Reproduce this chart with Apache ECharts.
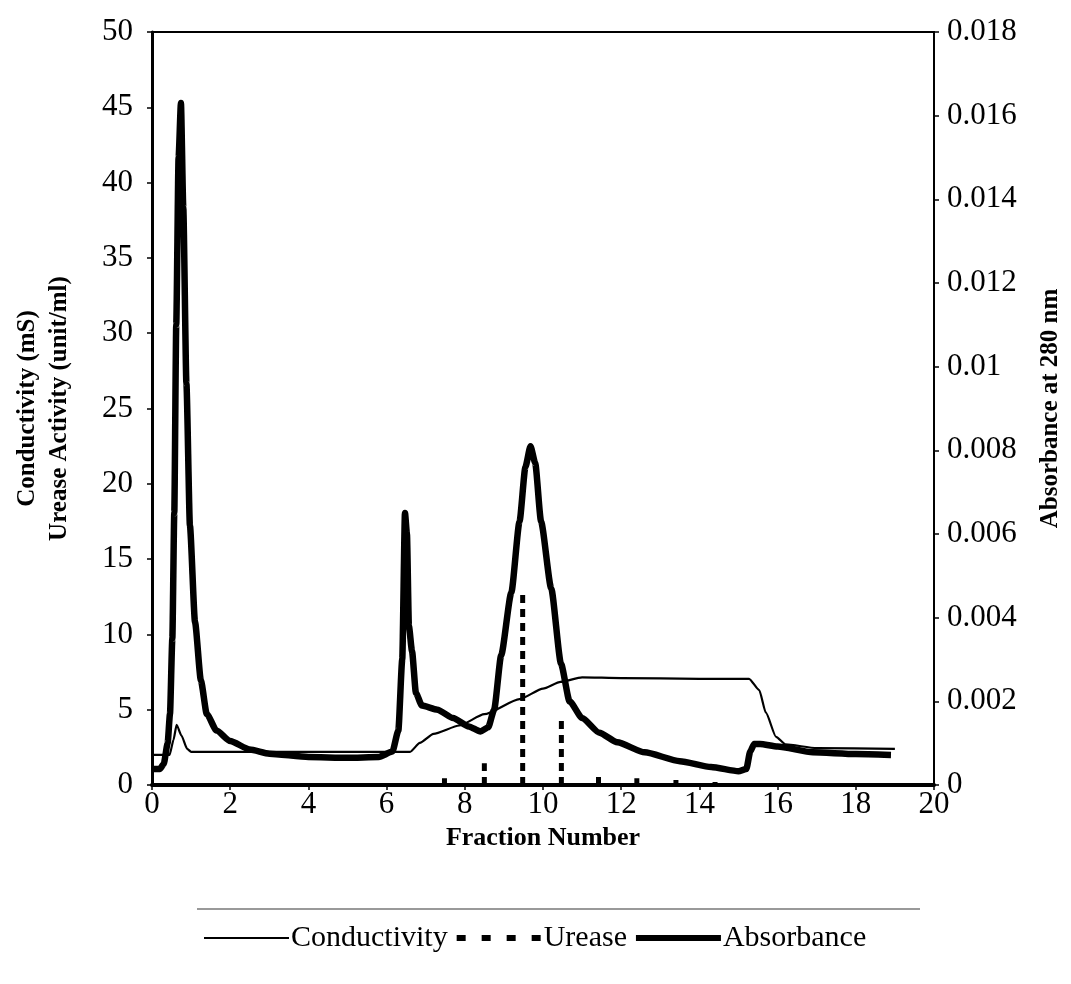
<!DOCTYPE html>
<html>
<head>
<meta charset="utf-8">
<script src="https://cdn.jsdelivr.net/npm/echarts@6/dist/echarts.min.js"></script>
<style>
html,body{margin:0;padding:0;background:#fff;}
#chart{width:1071px;height:984px;}
</style>
</head>
<body>
<div id="chart"></div>
<script>
// ---- data ----
var xTicks = [0, 2, 4, 6, 8, 10, 12, 14, 16, 18, 20];
var leftTicks = [0, 5, 10, 15, 20, 25, 30, 35, 40, 45, 50];
var rightTicks = [0, 0.002, 0.004, 0.006, 0.008, 0.01, 0.012, 0.014, 0.016, 0.018];

// Conductivity (mS) vs fraction number
var conductivity = [
  [0, 2.0], [0.45, 2.0], [0.55, 3.0], [0.63, 4.0], [0.75, 3.3], [0.9, 2.4], [1.0, 2.2],
  [3.0, 2.2], [6.0, 2.2], [6.6, 2.2], [6.85, 2.8], [7.2, 3.4], [7.86, 3.95], [8.5, 4.7],
  [9.4, 5.7], [10.0, 6.4], [10.45, 6.85], [11.0, 7.15], [12.0, 7.1], [14.0, 7.05],
  [15.27, 7.05], [15.53, 6.3], [15.7, 4.8], [15.96, 3.2], [16.2, 2.7], [17.0, 2.45], [19.0, 2.4]
];

// Urease activity (unit/ml) spikes
var ureaseX = [7.48, 8.5, 9.48, 10.47, 11.42, 12.4, 13.4, 14.4];
var ureaseVal = [0.45, 1.45, 12.9, 4.4, 0.8, 0.45, 0.33, 0.2];

// Absorbance at 280 nm
var absorbance = [
  [0, 0.00038], [0.2, 0.00038], [0.3, 0.0005], [0.4, 0.001], [0.46, 0.0017], [0.52, 0.0035],
  [0.57, 0.0065], [0.62, 0.011], [0.68, 0.015], [0.74, 0.0163], [0.8, 0.0138], [0.88, 0.0096],
  [0.97, 0.0062], [1.1, 0.0039], [1.25, 0.0025], [1.4, 0.0017], [1.65, 0.0013], [2.0, 0.00105],
  [2.5, 0.00085], [3.0, 0.00075], [4.0, 0.00067], [5.0, 0.00065], [5.8, 0.00067], [6.15, 0.0008],
  [6.3, 0.0013], [6.4, 0.003], [6.47, 0.0065], [6.52, 0.006], [6.57, 0.0038], [6.65, 0.0032],
  [6.75, 0.0022], [6.9, 0.0019], [7.3, 0.0018], [7.7, 0.0016], [8.1, 0.0014], [8.4, 0.00128],
  [8.6, 0.00138], [8.75, 0.0018], [8.93, 0.0031], [9.19, 0.0046], [9.4, 0.0063], [9.55, 0.0076],
  [9.68, 0.0081], [9.8, 0.0077], [9.95, 0.0063], [10.21, 0.0047], [10.46, 0.0029], [10.68, 0.002],
  [11.0, 0.0016], [11.44, 0.00125], [11.9, 0.00102], [12.6, 0.00078], [13.5, 0.00057],
  [14.3, 0.00043], [15.0, 0.00033], [15.2, 0.00038], [15.3, 0.0008], [15.4, 0.00098],
  [15.55, 0.00098], [16.0, 0.00092], [16.9, 0.00078], [18.0, 0.00074], [18.9, 0.00072]
];

// ---- build ----
var ureaseData = [];
for (var i = 0; i < ureaseX.length; i++) {
  ureaseData.push([ureaseX[i], 0]);
  ureaseData.push([ureaseX[i], ureaseVal[i]]);
  ureaseData.push([ureaseX[i], '-']);
}

var serif = 'Liberation Serif';
var chart = echarts.init(document.getElementById('chart'), null, {renderer: 'canvas'});
chart.setOption({
  animation: false,
  backgroundColor: '#fff',
  grid: {left: 152, right: 136, top: 32, bottom: 199, show: true, borderColor: '#000', borderWidth: 2},
  legend: {
    top: 918, left: 198,
    itemWidth: 85, itemHeight: 14, itemGap: 6,
    itemStyle: {opacity: 0},
    textStyle: {fontFamily: serif, fontSize: 30, color: '#000', padding: [0, 0, 0, -3]},
    data: [
      {name: 'Conductivity', lineStyle: {width: 2, color: '#000'}},
      {name: 'Urease', lineStyle: {width: 6, color: '#000', type: [9, 16]}},
      {name: 'Absorbance', lineStyle: {width: 6, color: '#000'}}
    ]
  },
  graphic: [{
    type: 'line', shape: {x1: 197, y1: 909, x2: 920, y2: 909},
    style: {stroke: '#777', lineWidth: 1.5}
  }],
  xAxis: {
    type: 'value', min: 0, max: 20, interval: 2,
    axisLine: {show: true, onZero: false, lineStyle: {color: '#000', width: 4}},
    axisTick: {show: true, length: 5, lineStyle: {color: '#000', width: 1.5}},
    splitLine: {show: false},
    axisLabel: {color: '#000', fontFamily: serif, fontSize: 31, margin: 4,
      formatter: function (v) { return xTicks.indexOf(v) >= 0 ? String(v) : ''; }},
    name: 'Fraction Number', nameLocation: 'middle', nameGap: 40, nameMoveOverlap: false,
    nameTextStyle: {fontFamily: serif, fontWeight: 'bold', fontSize: 26, color: '#000'}
  },
  yAxis: [{
    type: 'value', min: 0, max: 50, interval: 5, position: 'left',
    axisLine: {show: true, lineStyle: {color: '#000', width: 3}},
    axisTick: {show: true, length: 5, lineStyle: {color: '#000', width: 1.5}},
    splitLine: {show: false},
    axisLabel: {color: '#000', fontFamily: serif, fontSize: 31, margin: 19,
      formatter: function (v) { return leftTicks.indexOf(v) >= 0 ? String(v) : ''; }},
    name: 'Conductivity (mS)\nUrease Activity (unit/ml)', nameLocation: 'middle', nameGap: 76, nameRotate: 90,
    nameTextStyle: {fontFamily: serif, fontWeight: 'bold', fontSize: 25, lineHeight: 32, color: '#000'}
  }, {
    type: 'value', min: 0, max: 0.018, interval: 0.002, position: 'right',
    axisLine: {show: true, lineStyle: {color: '#000', width: 2}},
    axisTick: {show: true, length: 5, lineStyle: {color: '#000', width: 1.5}},
    splitLine: {show: false},
    axisLabel: {color: '#000', fontFamily: serif, fontSize: 31, margin: 13,
      formatter: function (v) {
        var r = +v.toFixed(3);
        for (var k = 0; k < rightTicks.length; k++) { if (Math.abs(rightTicks[k] - r) < 1e-9) return String(rightTicks[k]); }
        return '';
      }},
    name: 'Absorbance at 280 nm', nameLocation: 'middle', nameGap: 104, nameRotate: 90,
    nameTextStyle: {fontFamily: serif, fontWeight: 'bold', fontSize: 25, color: '#000'}
  }],
  series: [{
    name: 'Conductivity', type: 'line', yAxisIndex: 0, data: conductivity,
    showSymbol: false, symbol: 'none', smooth: 0.2, smoothMonotone: 'x',
    lineStyle: {color: '#000', width: 2.2}, itemStyle: {color: '#000'}, z: 3
  }, {
    name: 'Urease', type: 'line', yAxisIndex: 0, data: ureaseData, connectNulls: false,
    showSymbol: false, symbol: 'none',
    lineStyle: {color: '#000', width: 5, type: [8, 6]}, itemStyle: {color: '#000'}, z: 2
  }, {
    name: 'Absorbance', type: 'line', yAxisIndex: 1, data: absorbance,
    showSymbol: false, symbol: 'none', smooth: 0.2, smoothMonotone: 'x',
    lineStyle: {color: '#000', width: 6.5}, itemStyle: {color: '#000'}, z: 4
  }]
});
</script>
</body>
</html>
